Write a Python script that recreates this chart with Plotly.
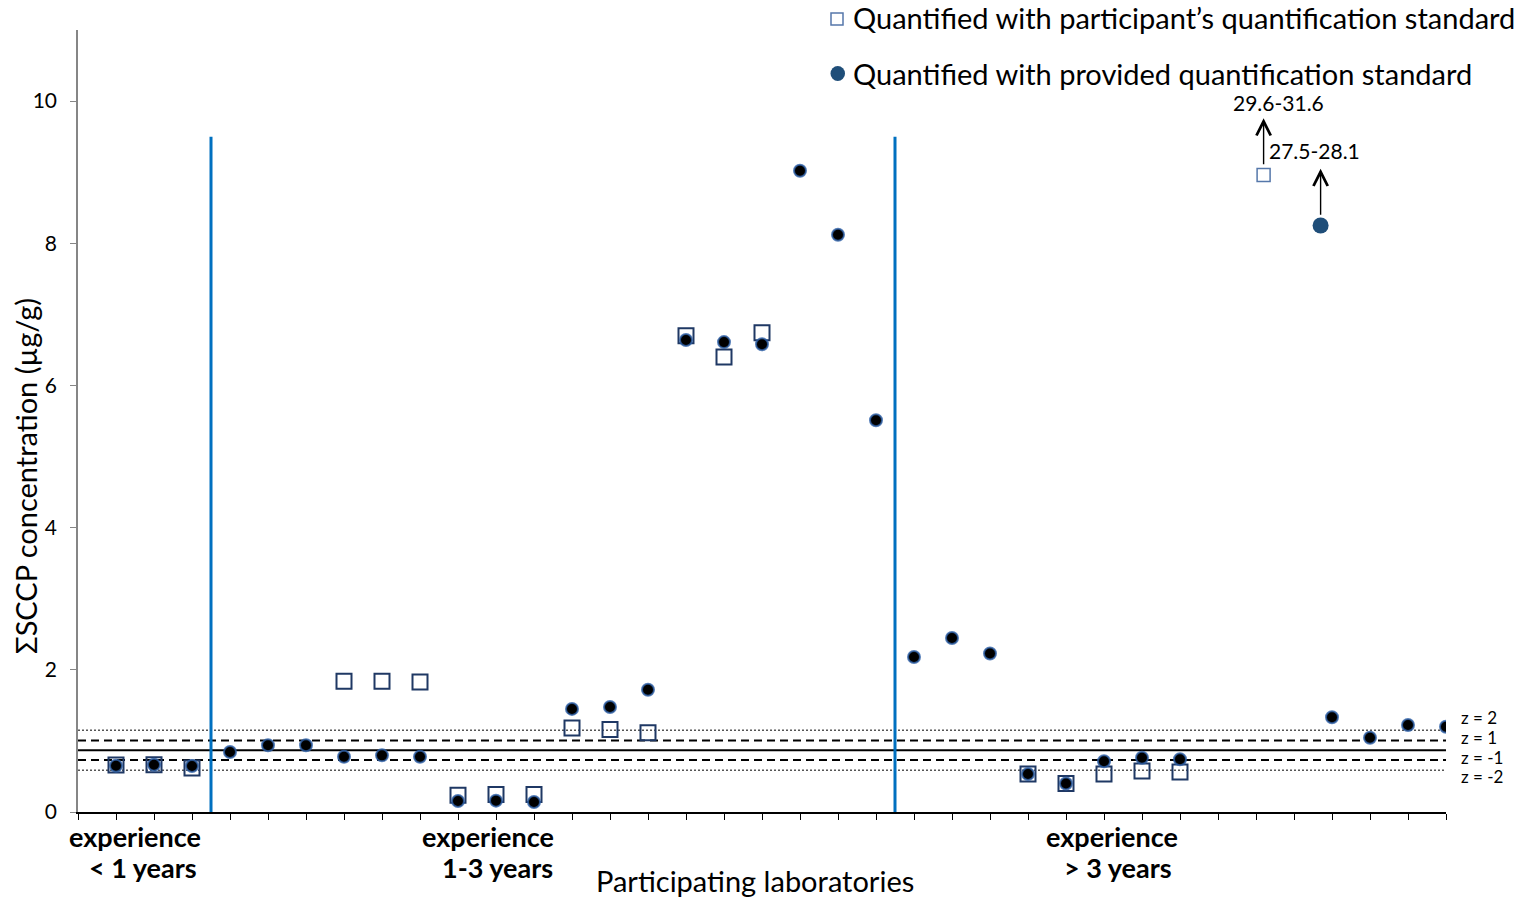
import plotly.graph_objects as go

# ---- data -------------------------------------------------------------
labs = list(range(1, 37))

# sum of SCCP (µg/g) quantified with the participant's own standard
own_standard = [0.66, 0.665, 0.62, None, None, None, 1.84, 1.84, 1.83,
                0.235, 0.245, 0.245, 1.18, 1.16, 1.115, 6.70, 6.40, 6.74,
                None, None, None, None, None, None, 0.535, 0.40, 0.535,
                0.577, 0.563, None, None, None, None, None, None, None]

# sum of SCCP (µg/g) quantified with the provided standard
provided_standard = [0.65, 0.665, 0.647, 0.844, 0.938, 0.938, 0.778, 0.797,
                     0.778, 0.155, 0.16, 0.14, 1.45, 1.477, 1.72, 6.64, 6.61,
                     6.58, 9.02, 8.12, 5.51, 2.18, 2.447, 2.23, 0.534, 0.40,
                     0.713, 0.764, 0.741, None, None, None, 1.332, 1.045,
                     1.224, 1.2]

# off-scale results: drawn near the top of the axis with their reported range
offscale_own_x = [31.2]
offscale_own_y = [8.96]
offscale_own_range = ["29.6-31.6"]
offscale_prov_x = [32.7]
offscale_prov_y = [8.25]
offscale_prov_range = ["27.5-28.1"]

# assigned value and z-score limits
assigned = 0.868
z_levels = [2, 1, -1, -2]
z_values = [1.15, 1.004, 0.731, 0.586]

# experience groups (boundaries between laboratories)
group_bounds = [3.5, 21.5]
group_names = [("experience", "< 1 years"), ("experience", "1-3 years"),
               ("experience", "> 3 years")]

# ---- geometry helpers ---------------------------------------------------
W, H = 1539, 904
L, R, T, B = 78, 93, 30, 92
X_MAX, Y_MAX = 36, 11
pw, ph = W - L - R, H - T - B


def px_x(px):
    return (px - L) / pw


def px_y(py):
    return (H - B - py) / ph


FONT = "Lato"
NAVY = "#1f3864"
DOT_EDGE = "rgba(46,96,168,0.8)"

fig = go.Figure()

fig.add_trace(go.Scatter(
    x=labs, y=own_standard, mode="markers", showlegend=False,
    marker=dict(symbol="square", size=15, color="rgba(0,0,0,0)",
                line=dict(color=NAVY, width=2)),
))
fig.add_trace(go.Scatter(
    x=labs, y=provided_standard, mode="markers", showlegend=False,
    marker=dict(symbol="circle", size=12, color="black",
                line=dict(color=DOT_EDGE, width=2)),
))
fig.add_trace(go.Scatter(
    x=offscale_own_x, y=offscale_own_y, mode="markers", showlegend=False,
    marker=dict(symbol="square", size=13, color="white",
                line=dict(color="#5577aa", width=1.5)),
))
fig.add_trace(go.Scatter(
    x=offscale_prov_x, y=offscale_prov_y, mode="markers", showlegend=False,
    marker=dict(symbol="circle", size=16, color="#1f4e79",
                line=dict(color="#1f4e79", width=0)),
))

shapes = []
# assigned value and z-score lines
shapes.append(dict(type="line", xref="x", yref="y", x0=0, x1=X_MAX,
                   y0=assigned, y1=assigned, layer="below",
                   line=dict(color="black", width=2)))
for zl, zv in zip(z_levels, z_values):
    if abs(zl) == 1:
        ln = dict(color="black", width=2, dash="8px,5px")
    else:
        ln = dict(color="#555555", width=1.5, dash="2px,2px")
    shapes.append(dict(type="line", xref="x", yref="y", x0=0, x1=X_MAX,
                       y0=zv, y1=zv, layer="below", line=ln))
# group separators
for gb in group_bounds:
    shapes.append(dict(type="line", xref="x", yref="y", x0=gb, x1=gb,
                       y0=0, y1=9.5, layer="below",
                       line=dict(color="#0070c0", width=3)))
# legend symbols
shapes.append(dict(type="rect", xref="paper", yref="paper",
                   x0=px_x(831), x1=px_x(843), y0=px_y(25), y1=px_y(13),
                   line=dict(color="#5577aa", width=1.5), fillcolor="white"))
shapes.append(dict(type="circle", xref="paper", yref="paper",
                   x0=px_x(830.5), x1=px_x(845), y0=px_y(81), y1=px_y(66),
                   line=dict(color="#1f4e79", width=0), fillcolor="#1f4e79"))

ann = []
# legend text
ann.append(dict(xref="paper", yref="paper", x=px_x(851), y=px_y(18),
                xanchor="left", yanchor="middle", showarrow=False,
                text="Quantified with participant’s quantification standard",
                font=dict(family=FONT, size=29, color="black")))
ann.append(dict(xref="paper", yref="paper", x=px_x(851), y=px_y(73),
                xanchor="left", yanchor="middle", showarrow=False,
                text="Quantified with provided quantification standard",
                font=dict(family=FONT, size=29, color="black")))

# arrows and ranges for off-scale results
for xs, ys, rng, dx, dy in [(offscale_own_x, offscale_own_y, offscale_own_range, 0.4, 1.02),
                            (offscale_prov_x, offscale_prov_y, offscale_prov_range, -0.15, 1.05)]:
    for xv, yv, txt in zip(xs, ys, rng):
        ann.append(dict(x=xv, y=yv + 0.8, ax=xv, ay=yv + 0.13, xref="x", yref="y",
                        axref="x", ayref="y", text="", showarrow=True,
                        arrowhead=5, arrowsize=2, arrowwidth=1.4,
                        arrowcolor="black"))
        ann.append(dict(x=xv + dx, y=yv + dy, xref="x", yref="y", text=txt,
                        showarrow=False, xanchor="center", yanchor="middle",
                        font=dict(family=FONT, size=21, color="black")))

# z-score labels
z_label_y = [1.325, 1.055, 0.765, 0.495]
for zl, ly in zip(z_levels, z_label_y):
    ann.append(dict(x=X_MAX, y=ly, xref="x", yref="y", xshift=13,
                    text=f"z = {zl}", showarrow=False, xanchor="left",
                    yanchor="middle",
                    font=dict(family=FONT, size=17, color="black")))

# experience group labels
group_x = [(1.5, 1.71), (10.8, 11.03), (27.2, 27.38)]
for (l1, l2), (x1, x2) in zip(group_names, group_x):
    ann.append(dict(x=x1, y=px_y(836), xref="x", yref="paper", text=f"<b>{l1}</b>",
                    showarrow=False, xanchor="center", yanchor="middle",
                    font=dict(family=FONT, size=27, color="black")))
    ann.append(dict(x=x2, y=px_y(867), xref="x", yref="paper", text=f"<b>{l2}</b>",
                    showarrow=False, xanchor="center", yanchor="middle",
                    font=dict(family=FONT, size=27, color="black")))

# axis titles
ann.append(dict(xref="paper", yref="paper", x=px_x(755), y=px_y(881),
                text="Participating laboratories", showarrow=False,
                xanchor="center", yanchor="middle",
                font=dict(family=FONT, size=29, color="black")))
ann.append(dict(xref="paper", yref="paper", x=px_x(26), y=px_y(476),
                text="ΣSCCP concentration (µg/g)", showarrow=False,
                textangle=-90, xanchor="center", yanchor="middle",
                font=dict(family=FONT, size=29, color="black")))

fig.update_layout(
    width=W, height=H,
    margin=dict(l=L, r=R, t=T, b=B),
    paper_bgcolor="white", plot_bgcolor="white",
    shapes=shapes, annotations=ann, showlegend=False,
    xaxis=dict(range=[0, X_MAX], tickmode="linear", tick0=0, dtick=1,
               showticklabels=False, ticks="outside", ticklen=6,
               tickcolor="black", tickwidth=1.2, showgrid=False,
               zeroline=False, showline=True, linecolor="black",
               linewidth=1.5),
    yaxis=dict(range=[0, Y_MAX], tickmode="array", tickvals=[0, 2, 4, 6, 8, 10],
               ticks="outside", ticklen=6, tickcolor="#868686", tickwidth=1.2,
               showgrid=False, zeroline=False, showline=True,
               linecolor="#868686", linewidth=1.5, ticklabelstandoff=9,
               tickfont=dict(family=FONT, size=21, color="black")),
)

fig.write_html("out.html")
